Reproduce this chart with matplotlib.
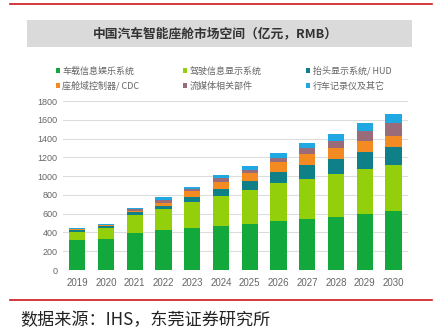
import numpy as np
import matplotlib.pyplot as plt
from matplotlib.patches import Rectangle
from matplotlib.lines import Line2D

plt.rcParams['font.family'] = ['Noto Sans CJK SC', 'DejaVu Sans']

# 数据 (亿元)
years = ['2019', '2020', '2021', '2022', '2023', '2024', '2025', '2026', '2027', '2028', '2029', '2030']
infotainment = [320, 327, 394, 422, 447, 469, 493, 518, 543, 568, 596, 628]
cluster = [88, 117, 195, 231, 281, 319, 357, 405, 430, 451, 483, 494]
hud = [18, 21, 25, 29, 53, 75, 99, 124, 149, 163, 178, 191]
cdc = [6, 10, 17, 35, 60, 78, 86, 107, 113, 124, 120, 117]
media = [6, 9, 17, 28, 22, 35, 35, 42, 61, 67, 103, 132]
recorder = [6, 9, 16, 29, 27, 36, 43, 54, 60, 75, 82, 96]

series = [infotainment, cluster, hud, cdc, media, recorder]
names = ['车载信息娱乐系统', '驾驶信息显示系统', '抬头显示系统/ HUD',
         '座舱域控制器/ CDC', '流媒体相关部件', '行车记录仪及其它']
colors = ['#12a83c', '#93cf0a', '#0f7f88', '#f38a22', '#9a6c79', '#20a8e2']

fig = plt.figure(figsize=(4.4, 3.35), dpi=100)
ax = fig.add_axes([0.143, 0.194, 0.784, 0.504])

x = np.arange(len(years))
bottom = np.zeros(len(years))
bars = []
for vals, name, c in zip(series, names, colors):
    b = ax.bar(x, vals, width=0.56, bottom=bottom, color=c, label=name, zorder=3)
    bars.append(b)
    bottom += np.array(vals)

ax.set_xlim(-0.5, 11.5)
ax.set_ylim(0, 1800)
ax.set_yticks(np.arange(0, 1801, 200))
ax.set_xticks(x)
ax.set_xticklabels(years)
ax.grid(axis='y', color='#dcdcdc', linewidth=0.8, zorder=0)
for s in ax.spines.values():
    s.set_visible(False)
ax.tick_params(length=0, colors='#666666', labelsize=6.5, pad=4)
for lab in ax.get_xticklabels() + ax.get_yticklabels():
    lab.set_family(['Liberation Sans', 'DejaVu Sans'])
ax.tick_params(axis='x', labelsize=7, pad=6)

# 图例: 两行三列
order = [0, 3, 1, 4, 2, 5]
leg = fig.legend([bars[i] for i in order], [names[i] for i in order], ncol=3,
                 loc='center left', bbox_to_anchor=(0.108, 0.765), frameon=False,
                 fontsize=6.5, handlelength=0.45, handleheight=0.45, handletextpad=0.3,
                 columnspacing=4.85, labelspacing=0.6, labelcolor='#666666')

# 标题框
fig.patches.append(Rectangle((27 / 440, 1 - 47 / 335), 385 / 440, 27 / 335,
                             transform=fig.transFigure, facecolor='#dadada', edgecolor='none'))
fig.text(0.49, 1 - 34 / 335, '中国汽车智能座舱市场空间（亿元，RMB）', ha='center', va='center',
         fontsize=9.2, fontweight='bold', color='#333333')

# 红线
fig.add_artist(Line2D([10 / 440, 432 / 440], [1 - 4 / 335, 1 - 4 / 335], color='#c8161d', lw=1.2))
fig.add_artist(Line2D([10 / 440, 432 / 440], [1 - 300 / 335, 1 - 300 / 335], color='#c8161d', lw=1.2))

fig.text(20 / 440, 1 - 320 / 335, '数据来源：IHS，东莞证券研究所', ha='left', va='center',
         fontsize=12.3, color='#222222')

fig.savefig('out.png', dpi=100)
